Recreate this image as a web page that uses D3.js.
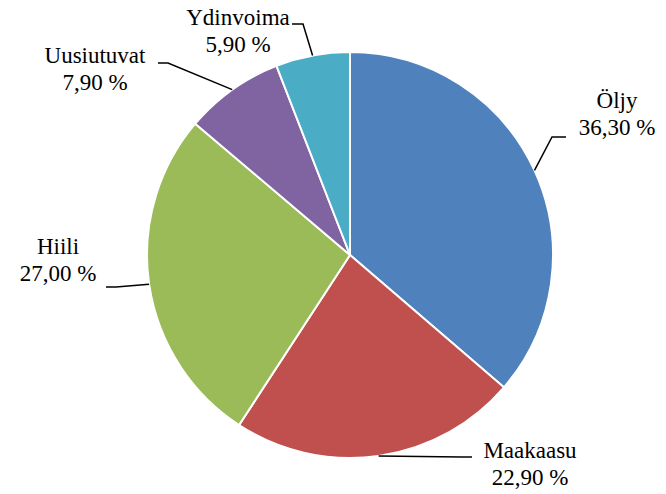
<!DOCTYPE html>
<html>
<head>
<meta charset="utf-8">
<script src="https://cdn.jsdelivr.net/npm/d3@7"></script>
<style>
  body { margin: 0; background: #fff; }
  .lbl { font-family: "Times New Roman", Times, "Liberation Serif", "DejaVu Serif", serif; }
</style>
</head>
<body>
<svg id="chart" width="666" height="494"></svg>
<script>
"use strict";

// energy sources, share in percent
const categories = ['Öljy', 'Maakaasu', 'Hiili', 'Uusiutuvat', 'Ydinvoima'];
const shares = [36.3, 22.9, 27.0, 7.9, 5.9];
const colors = ['#4F81BD', '#C0504D', '#9BBB59', '#8064A2', '#4BACC6'];

(function () {
  let cx = 350, cy = 255, radius = 203;

  // label text anchor (center x, first baseline) and elbow of leader line
  let labelLayout = {
    'Öljy': { x: 617, y: 108, line: [[566, 137], [552, 137]] },
    'Maakaasu': { x: 530, y: 458, line: [[472, 457], [462, 457]] },
    'Hiili': { x: 58, y: 254, line: [[106, 287], [116, 287]] },
    'Uusiutuvat': { x: 95, y: 63, line: [[158, 63], [168, 63]] },
    'Ydinvoima': { x: 238, y: 25, line: [[292, 24], [303, 24]] }
  };

  let data = categories.map(function (c, i) {
    return { name: c, value: shares[i], color: colors[i] };
  });

  let svg = d3.select('#chart');
  let g = svg.append('g').attr('transform', 'translate(' + cx + ',' + cy + ')');

  let pie = d3.pie()
    .value(function (d) { return d.value; })
    .sort(null);

  let arc = d3.arc().innerRadius(0).outerRadius(radius);
  let edge = d3.arc().innerRadius(radius).outerRadius(radius);

  let arcs = pie(data);

  g.selectAll('path.slice')
    .data(arcs)
    .enter()
    .append('path')
    .attr('class', 'slice')
    .attr('d', arc)
    .style('fill', function (d) { return d.data.color; })
    .style('stroke', '#fff')
    .style('stroke-width', 2);

  let fmt = function (v) {
    return v.toFixed(2).replace('.', ',') + ' %';
  };

  arcs.forEach(function (d) {
    let lay = labelLayout[d.data.name];
    let p = edge.centroid(d);
    let pts = lay.line.concat([[p[0] + cx, p[1] + cy]]);

    svg.append('path')
      .attr('d', d3.line()(pts))
      .style('fill', 'none')
      .style('stroke', '#000')
      .style('stroke-width', 1.5);

    let t = svg.append('text')
      .attr('class', 'lbl')
      .attr('font-size', 23)
      .attr('fill', '#000')
      .attr('text-anchor', 'middle')
      .attr('x', lay.x)
      .attr('y', lay.y);
    t.append('tspan').attr('x', lay.x).text(d.data.name);
    t.append('tspan').attr('x', lay.x).attr('dy', 27).text(fmt(d.data.value));
  });
})();
</script>
</body>
</html>
